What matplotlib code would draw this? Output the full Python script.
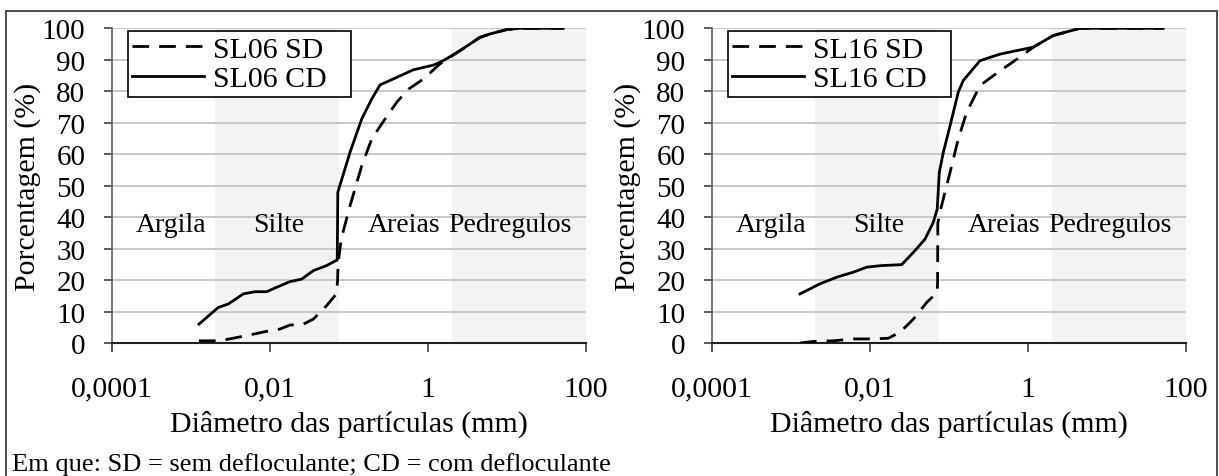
import matplotlib
matplotlib.use("Agg")
import matplotlib.pyplot as plt
from matplotlib.patches import Rectangle
import numpy as np

plt.rcParams['font.family'] = ['Liberation Serif', 'DejaVu Serif']

# ---------------- data ----------------
sl06_sd_x = [0.00127, 0.00223, 0.0031, 0.0050, 0.0091, 0.0133, 0.018, 0.0266, 0.0356, 0.0524,
             0.0695, 0.0720, 0.0730, 0.080, 0.1035, 0.1455, 0.1945, 0.26, 0.403, 0.57, 0.88,
             1.42, 2.55, 4.55, 6.1, 9.93, 14.5, 51.5]
sl06_sd_y = [0.7, 0.7, 1.3, 2.3, 3.7, 4.4, 5.7, 6.0, 7.6, 11.9,
             15.6, 19.8, 25.0, 33.0, 43.6, 56.3, 64.8, 69.6, 76.5, 80.7, 83.9,
             88.7, 92.9, 97.1, 98.2, 99.6, 100, 100]

sl06_cd_x = [0.00127, 0.00223, 0.00299, 0.00462, 0.0065, 0.00914, 0.0122, 0.018, 0.0253, 0.0356,
             0.0524, 0.0713, 0.0725, 0.1035, 0.1455, 0.1945, 0.2477, 0.403, 0.653, 1.17,
             1.563, 2.55, 4.55, 6.1, 9.93, 14.5, 51.5]
sl06_cd_y = [6.0, 11.3, 12.4, 15.6, 16.3, 16.3, 17.7, 19.5, 20.3, 23.0,
             24.6, 26.4, 47.9, 60.6, 71.2, 77.5, 82.0, 84.4, 86.8, 88.3,
             89.7, 92.9, 97.1, 98.2, 99.6, 100, 100]

sl16_sd_x = [0.00131, 0.00193, 0.00345, 0.00618, 0.0111, 0.0171, 0.0241, 0.0356, 0.0525, 0.0713,
             0.0720, 0.0725, 0.0770, 0.1035, 0.1315, 0.168, 0.2477, 0.444, 0.79, 1.17,
             2.09, 4.55, 51.5]
sl16_sd_y = [0.0, 0.5, 0.7, 1.3, 1.3, 1.5, 3.4, 7.6, 12.9, 16.1,
             19.3, 38.0, 41.5, 54.2, 64.8, 73.3, 81.8, 86.5, 90.8, 94.0,
             97.7, 100, 100]

sl16_cd_x = [0.00131, 0.00234, 0.00381, 0.00618, 0.00914, 0.0141, 0.0253, 0.0356, 0.0499, 0.0635,
             0.0713, 0.0757, 0.0851, 0.1035, 0.1315, 0.152, 0.2477, 0.444, 0.719, 1.17,
             2.09, 4.55, 51.5]
sl16_cd_y = [15.6, 18.8, 20.9, 22.5, 24.1, 24.6, 24.9, 28.8, 33.0, 38.3,
             42.6, 54.2, 60.6, 69.0, 79.7, 83.4, 89.7, 91.8, 92.9, 94.0,
             97.7, 100, 100]

silt_range = (0.002, 0.075)
gravel_range = (2.0, 100.0)
zone_names = ["Argila", "Silte", "Areias", "Pedregulos"]
zone_x = [0.00057, 0.0129, 0.5, 11.0]
zone_y = 35.5

xticks = [0.0001, 0.01, 1, 100]
xtick_labels = ["0,0001", "0,01", "1", "100"]
yticks = list(range(0, 101, 10))

panels = [
    ("SL06", sl06_sd_x, sl06_sd_y, sl06_cd_x, sl06_cd_y),
    ("SL16", sl16_sd_x, sl16_sd_y, sl16_cd_x, sl16_cd_y),
]

# ---------------- figure ----------------
W, H = 1219, 477
fig = plt.figure(figsize=(W / 100, H / 100), dpi=100)

ax_lefts = [111.7, 711.7]
ax_w = 474.3
ax_bottom_px = 344.0
ax_top_px = 29.3

FS = 21.5

for (name, sdx, sdy, cdx, cdy), lx in zip(panels, ax_lefts):
    ax = fig.add_axes([lx / W, (H - ax_bottom_px) / H, ax_w / W, (ax_bottom_px - ax_top_px) / H])
    ax.set_xscale('log')
    ax.set_xlim(0.0001, 100)
    ax.set_ylim(0, 100)
    ax.axvspan(*silt_range, color='#f3f3f3', lw=0, zorder=0)
    ax.axvspan(*gravel_range, color='#f3f3f3', lw=0, zorder=0)
    for yv in yticks[1:]:
        ax.axhline(yv, color='#c4c4c4', lw=1.3, zorder=1)
    l1, = ax.plot(sdx, sdy, color='black', lw=2.0, ls=(0, (6.0, 3.6)), zorder=3,
                  label=f"{name} SD")
    l2, = ax.plot(cdx, cdy, color='black', lw=2.0, zorder=3, label=f"{name} CD")
    for t, xv in zip(zone_names, zone_x):
        ax.text(xv, zone_y, t, ha='center', va='baseline', fontsize=20, zorder=4)

    ax.set_xticks(xticks)
    ax.set_xticklabels(xtick_labels)
    ax.xaxis.set_minor_locator(matplotlib.ticker.NullLocator())
    ax.set_yticks(yticks)
    ax.tick_params(axis='x', direction='out', length=6.5, width=1.2, color='#404040',
                   labelsize=FS, pad=17)
    ax.tick_params(axis='y', direction='out', length=6, width=1.2, color='#404040',
                   labelsize=FS - 0.5, pad=13)
    for s in ['top', 'right']:
        ax.spines[s].set_visible(False)
    ax.spines['left'].set_color('#606060')
    ax.spines['left'].set_linewidth(1.2)
    ax.spines['bottom'].set_color('#202020')
    ax.spines['bottom'].set_linewidth(1.5)
    ax.set_xlabel("Diâmetro das partículas (mm)", fontsize=FS, labelpad=6)
    ax.set_ylabel("Porcentagem (%)", fontsize=FS)
    ax.yaxis.set_label_coords(-0.15, 0.5)
    leg = ax.legend(handles=[l1, l2], loc='upper left',
                    bbox_to_anchor=(0.034, 0.5, 0.47, 0.49), mode='expand',
                    fontsize=FS, frameon=True, fancybox=False, handlelength=2.4,
                    borderpad=0.15, labelspacing=0.08, handletextpad=0.3,
                    borderaxespad=0.0)
    leg.get_frame().set_edgecolor('black')
    leg.get_frame().set_linewidth(1.2)
    leg.get_frame().set_alpha(1)

fig.text(12 / W, (H - 465) / H, "Em que: SD = sem defloculante; CD = com defloculante",
         fontsize=19, ha='left', va='center')

fig.patches.append(Rectangle((6 / W, -0.02), (1216.7 - 6) / W, (H - 12) / H + 0.02,
                             transform=fig.transFigure, fill=False, edgecolor='#404040',
                             lw=1.3))

fig.savefig("out.png", dpi=100)
